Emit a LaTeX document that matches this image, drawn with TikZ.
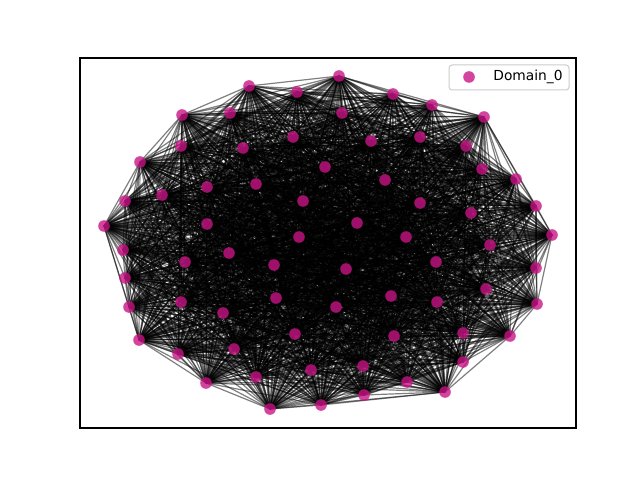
\documentclass[tikz,border=0pt]{standalone}
\usepackage{fontspec}
\setmainfont{DejaVu Sans}
\definecolor{mvr}{RGB}{199,21,133}
\pgfdeclarelayer{bg}
\pgfsetlayers{bg,main}
\begin{document}
\begin{tikzpicture}[x=0.5pt,y=-0.5pt,
  dot/.style={circle,fill=mvr,fill opacity=0.8,draw=none,minimum size=5.8pt,inner sep=0pt},
  edge/.style={draw=black,draw opacity=0.5,line width=0.6pt},
  frame/.style={draw=black,line width=0.55pt},
  legbox/.style={draw=black!20,fill=white,fill opacity=0.8,rounded corners=1.5pt,line width=0.5pt}]
\useasboundingbox (0,0) rectangle (640,480);
\foreach \x/\y [count=\k] in {339/76,297/92,249/86,393/94,432/105,484/117,230/113,182/115,342/113,293/137,
371/141,420/137,466/146,181/146,243/148,140/162,325/167,482/169,516/179,385/180,
256/184,207/187,162/195,125/201,303/201,420/203,536/206,471/213,357/223,104/226,
207/224,299/237,406/237,552/235,490/245,123/250,229/253,185/262,274/265,346/269,
436/262,536/268,125/278,486/289,181/302,129/307,276/298,391/296,437/302,537/304,
336/307,223/313,295/334,394/336,463/333,510/336,139/340,234/349,178/354,311/370,
363/366,463/362,256/377,206/383,407/382,445/392,364/395,321/405,270/409}
  \node[dot] (n\k) at (\x,\y) {};
\pgfmathsetseed{4242}
\begin{pgfonlayer}{bg}
\foreach \i in {1,...,68}{
  \pgfmathtruncatemacro\st{\i+1}
  \foreach \j in {\st,...,69}{
    \pgfmathparse{rnd<0.9?1:0}
    \ifnum\pgfmathresult=1
      \draw[edge] (n\i.center) -- (n\j.center);
    \fi
  }
}
\end{pgfonlayer}
\draw[frame] (80,58) rectangle (576,428);
\node[legbox,minimum width=60pt,minimum height=12.5pt,inner sep=0pt] (leg) at (509,77.5) {};
\node[dot] (legdot) at (469,77) {};
\node[anchor=west,inner sep=0pt,font=\fontsize{6.9}{8}\selectfont] (legtxt) at (493,76.5) {Domain\_0};
\end{tikzpicture}
\end{document}
